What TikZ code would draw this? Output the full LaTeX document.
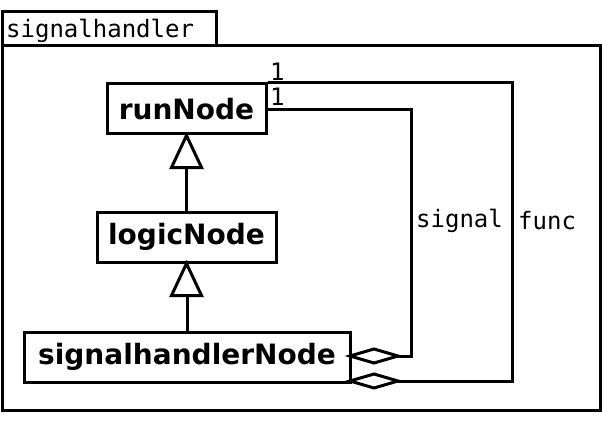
\documentclass[tikz,border=0pt]{standalone}
\usepackage{fontspec}
\setmainfont{DejaVu Sans}
\newfontfamily\monofont{DejaVu Sans Mono}
\usetikzlibrary{positioning}
\tikzset{
    class/.style={draw, line width=3pt, font=\fontsize{28}{32}\selectfont\bfseries, inner sep=0pt, minimum height=50pt},
    lbl/.style={font=\monofont\fontsize{24}{28}\selectfont, inner sep=0pt},
    link/.style={line width=3pt}
}
\begin{document}
\begin{tikzpicture}[x=1pt,y=-1pt]
        \useasboundingbox (0,0) rectangle (602,425);
        % package frame
        \draw[link] (2,12) rectangle (216,46);
        \draw[link] (2,46) rectangle (600,410);
        \node[lbl, anchor=west] (pkg) at (6,31) {signalhandler};

        \node[class, minimum width=159pt] (run) at (186.5,109) {runNode};
        \node[class, minimum width=179pt] (logic) at (186.5,237) {logicNode};
        \node[class, minimum width=326pt] (sh) at (187,357) {signalhandlerNode};

        % inheritance
        \foreach \child/\parent in {logic/run, sh/logic}{
            \draw[link] (\child.north) -- ++(0,-46);
            \draw[link, fill=white] (\parent.south) -- ++(-15,32) -- ++(30,0) -- cycle;
        }

        % associations
        \coordinate (sigtip) at (350,356);
        \coordinate (functip) at (350,381);
        \draw[link] ([yshift=-1pt]run.east) -| (411,356) -- (398,356);
        \draw[link, fill=white] (sigtip) -- ++(24,-7) -- ++(24,7) -- ++(-24,7) -- cycle;
        \draw[link] (run.north east) -| (512,381) -- (398,381);
        \draw[link, fill=white] (functip) -- ++(24,-7) -- ++(24,7) -- ++(-24,7) -- cycle;

        \node[lbl, anchor=south west] (m1) at (270,81) {1};
        \node[lbl, anchor=south west] (m2) at (270,106) {1};
        \node[lbl, anchor=west] (sig) at (416,221) {signal};
        \node[lbl, anchor=west] (fn) at (518,221) {func};
\end{tikzpicture}
\end{document}
